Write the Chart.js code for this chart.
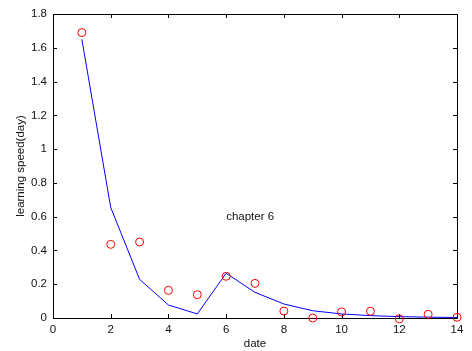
<!DOCTYPE html>
<html>
<head>
<meta charset="utf-8">
<script src="https://cdn.jsdelivr.net/npm/chart.js@4/dist/chart.umd.min.js"></script>
<style>
  html, body { margin: 0; padding: 0; background: #fff; }
  #wrap { width: 472px; height: 351px; }
</style>
</head>
<body>
<div id="wrap"><canvas id="chart"></canvas></div>
<script>
// days and the two series (measured circles, fitted line)
const days = [1, 2, 3, 4, 5, 6, 7, 8, 9, 10, 11, 12, 13, 14];
const measured = [1.69, 0.436, 0.45, 0.164, 0.138, 0.247, 0.205, 0.041, 0.0, 0.036, 0.04, -0.005, 0.022, 0.004];
const fitted = [1.65, 0.655, 0.229, 0.077, 0.024, 0.265, 0.152, 0.083, 0.043, 0.024, 0.014, 0.008, 0.005, 0.003];

const xTicks = [0, 2, 4, 6, 8, 10, 12, 14];
const yTicks = [0, 0.2, 0.4, 0.6, 0.8, 1, 1.2, 1.4, 1.6, 1.8];

const noteText = 'chapter 6';
const notePos = { x: 6, y: 0.6 };

const fontFamily = 'Arial, "Liberation Sans", Helvetica, sans-serif';
const fontSize = 11.5;

// Matlab style box with inward ticks on all four sides, plus the text note
const boxPlugin = {
    id: 'box',
    beforeDatasetsDraw(chart) {
        const ctx = chart.ctx;
        const { left, right, top, bottom } = chart.chartArea;
        const xs = chart.scales.x;
        const ys = chart.scales.y;
        const tl = 4;
        ctx.save();
        ctx.strokeStyle = '#000';
        ctx.lineWidth = 1;
        ctx.beginPath();
        ctx.rect(Math.round(left) + 0.5, Math.round(top) + 0.5, Math.round(right - left), Math.round(bottom - top));
        xTicks.forEach(v => {
            const px = Math.round(xs.getPixelForValue(v)) + 0.5;
            ctx.moveTo(px, bottom);
            ctx.lineTo(px, bottom - tl);
            ctx.moveTo(px, top);
            ctx.lineTo(px, top + tl);
        });
        yTicks.forEach(v => {
            const py = Math.round(ys.getPixelForValue(v)) + 0.5;
            ctx.moveTo(left, py);
            ctx.lineTo(left + tl, py);
            ctx.moveTo(right, py);
            ctx.lineTo(right - tl, py);
        });
        ctx.stroke();
        ctx.restore();
    },
    afterDatasetsDraw(chart) {
        const ctx = chart.ctx;
        ctx.save();
        ctx.fillStyle = '#111';
        ctx.font = fontSize + 'px ' + fontFamily;
        ctx.textAlign = 'left';
        ctx.textBaseline = 'middle';
        ctx.fillText(noteText, chart.scales.x.getPixelForValue(notePos.x), chart.scales.y.getPixelForValue(notePos.y));
        ctx.restore();
    }
};

new Chart(document.getElementById('chart'), {
    type: 'scatter',
    data: {
        datasets: [{
            label: 'measured',
            data: days.map((d, i) => ({ x: d, y: measured[i] })),
            showLine: false,
            pointStyle: 'circle',
            pointRadius: 4,
            pointBorderColor: '#ff0000',
            pointBackgroundColor: 'rgba(0,0,0,0)',
            pointBorderWidth: 1,
            clip: false
        }, {
            label: 'fitted',
            data: days.map((d, i) => ({ x: d, y: fitted[i] })),
            showLine: true,
            borderColor: '#0000ff',
            borderWidth: 1,
            pointRadius: 0,
            tension: 0
        }]
    },
    options: {
        responsive: true,
        maintainAspectRatio: false,
        animation: false,
        layout: { padding: { left: 0, right: 15, top: 14, bottom: 0 } },
        plugins: {
            legend: { display: false },
            tooltip: { enabled: false }
        },
        scales: {
            x: {
                type: 'linear',
                min: 0,
                max: 14,
                afterBuildTicks: scale => { scale.ticks = xTicks.map(v => ({ value: v })); },
                afterFit: scale => { scale.height = 33; },
                grid: { display: false, drawTicks: false },
                border: { display: false },
                ticks: {
                    padding: 5,
                    color: '#111',
                    font: { family: fontFamily, size: fontSize },
                    maxRotation: 0,
                    callback: v => String(v)
                },
                title: {
                    display: true,
                    text: 'date',
                    color: '#111',
                    font: { family: fontFamily, size: fontSize },
                    padding: { top: 0, bottom: 0.5 }
                }
            },
            y: {
                type: 'linear',
                min: 0,
                max: 1.8,
                afterBuildTicks: scale => { scale.ticks = yTicks.map(v => ({ value: v })); },
                afterFit: scale => { scale.width = 53; },
                grid: { display: false, drawTicks: false },
                border: { display: false },
                ticks: {
                    padding: 6,
                    color: '#111',
                    font: { family: fontFamily, size: fontSize },
                    callback: v => String(+v.toFixed(1))
                },
                title: {
                    display: true,
                    text: 'learning speed(day)',
                    color: '#111',
                    font: { family: fontFamily, size: fontSize },
                    padding: { top: 14, bottom: 0 }
                }
            }
        }
    },
    plugins: [boxPlugin]
});
</script>
</body>
</html>
